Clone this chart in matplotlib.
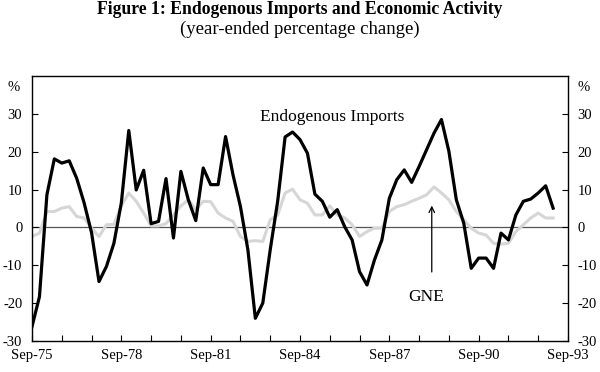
import matplotlib
matplotlib.use('Agg')
import matplotlib.pyplot as plt

# quarterly, Sep-75 .. Mar-93, year-ended % change
imports = [-26.2, -18.3, 8.6, 18.1, 17.0, 17.6, 13.0, 6.5, -1.4, -14.3, -10.3, -4.2,
           6.5, 25.6, 9.9, 15.1, 1.0, 1.6, 12.9, -2.8, 14.8, 7.3, 1.8, 15.7,
           11.3, 11.3, 24.0, 13.9, 5.5, -5.9, -24.0, -20.0, -5.9, 6.9, 23.9, 25.2,
           23.2, 19.6, 8.8, 6.9, 2.7, 4.7, 0.2, -3.3, -11.7, -15.2, -8.6, -3.3,
           7.7, 12.6, 15.2, 11.9, 16.1, 20.5, 24.9, 28.5, 20.1, 7.3, 1.1, -10.8,
           -8.1, -8.1, -10.8, -1.5, -3.3, 3.3, 6.9, 7.5, 9.1, 11.0, 5.1]
gne = [-2.4, -1.5, 4.2, 4.2, 5.1, 5.5, 2.9, 2.5, -0.2, -2.4, 0.7, 0.8,
       5.7, 9.1, 6.9, 3.8, 0.4, 0.4, 1.0, 3.3, 5.7, 7.3, 4.7, 6.9,
       6.8, 3.8, 2.5, 1.6, -2.4, -3.7, -3.5, -3.7, 2.0, 3.3, 9.1, 10.1,
       7.3, 6.4, 3.3, 3.3, 5.7, 3.3, 2.5, 0.7, -2.4, -1.1, -0.2, -0.2,
       4.2, 5.5, 6.0, 6.9, 7.7, 8.6, 10.7, 9.1, 7.3, 4.2, 2.0, -0.2,
       -1.5, -2.0, -4.2, -4.4, -4.2, -1.1, 0.7, 2.5, 3.8, 2.5, 2.5]
year_labels = ['Sep-75', 'Sep-78', 'Sep-81', 'Sep-84', 'Sep-87', 'Sep-90', 'Sep-93']
yticks = [-30, -20, -10, 0, 10, 20, 30]

plt.rcParams['font.family'] = ['Liberation Serif', 'DejaVu Serif']

fig = plt.figure(figsize=(6, 3.72), dpi=100)
ax = fig.add_axes([32/600, 31/372, 536/600, 265/372])

q = list(range(len(imports)))
ax.axhline(0, color='#555555', lw=0.9, zorder=1)
ax.plot(q, gne, color='#d6d6d6', lw=2.2, zorder=2)
ax.plot(q, imports, color='black', lw=2.3, zorder=3)

ax.set_xlim(0, 72)
ax.set_ylim(-30, 40)
ax.set_xticks(range(0, 73, 4))
ax.set_xticklabels([year_labels[i // 12] if i % 12 == 0 else '' for i in range(0, 73, 4)])
ax.set_yticks(yticks)
ax.set_yticklabels([str(v) for v in yticks])
ax.tick_params(axis='both', direction='in', length=4, width=0.8, labelsize=10.5,
               right=True, labelright=True, top=False)
ax.tick_params(axis='y', pad=7)
ax.tick_params(axis='x', pad=6)
for s in ax.spines.values():
    s.set_linewidth(1.0)

ax.text(-0.035, 0.958, '%', transform=ax.transAxes, ha='center', va='center', fontsize=10.5)
ax.text(1.03, 0.958, '%', transform=ax.transAxes, ha='center', va='center', fontsize=10.5)

ax.text(40.3, 29.3, 'Endogenous Imports', ha='center', va='center', fontsize=12.5)
ax.text(52.9, -18.3, 'GNE', ha='center', va='center', fontsize=12.5)
ax.annotate('', xy=(53.7, 6.5), xytext=(53.7, -12.5),
            arrowprops=dict(arrowstyle='->', color='black', lw=0.9))

fig.text(0.5, 0.997, 'Figure 1: Endogenous Imports and Economic Activity',
         ha='center', va='top', fontsize=12.7, fontweight='bold')
fig.text(0.5, 0.922, '(year-ended percentage change)', ha='center', va='center', fontsize=13.5)

fig.savefig('out.png', dpi=100)
